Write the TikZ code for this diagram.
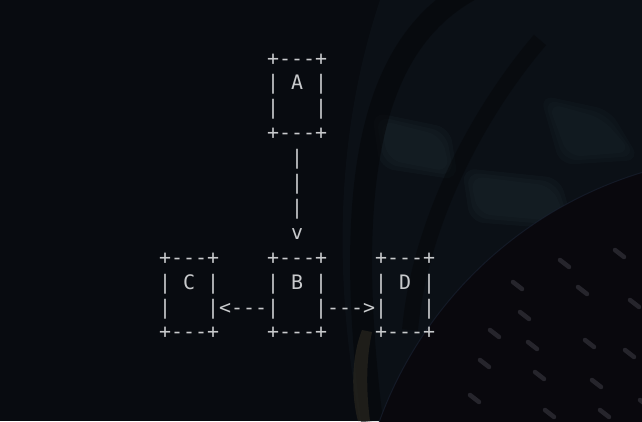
\documentclass[tikz,border=0pt]{standalone}
\usepackage{fontspec}
\setmonofont{DejaVu Sans Mono}
\definecolor{bg}{RGB}{8,11,16}
\definecolor{bgright}{RGB}{13,19,25}
\definecolor{blob}{RGB}{30,44,50}
\definecolor{ring}{RGB}{5,6,8}
\definecolor{disk}{RGB}{9,8,13}
\definecolor{diskedge}{RGB}{30,40,60}
\definecolor{bristle}{RGB}{62,62,70}
\definecolor{sliver}{RGB}{40,38,30}
\definecolor{txt}{RGB}{200,202,204}
\begin{document}
\begin{tikzpicture}[x=1pt,y=-1pt,
  ascii/.style={inner sep=0pt, anchor=base west, text=txt,
    font=\ttfamily\fontsize{19.93}{24.9}\selectfont},
  softblob/.style={fill=blob, opacity=0.2, rounded corners=14pt},
  bristlestroke/.style={draw=bristle, line width=4.5pt, line cap=round, opacity=0.55}]
\useasboundingbox (0,0) rectangle (642,421);
% background photo (blurred)
\fill[bg] (0,0) rectangle (642,421);
\fill[bgright, opacity=0.7] (380,0) .. controls (340,120) and (330,260) .. (360,421) -- (642,421) -- (642,0) -- cycle;
\foreach \i in {0,4,8} {
  \fill[softblob] (372+\i,112+\i) -- (450-\i,128+\i) -- (458-\i,180-\i) -- (380+\i,168-\i) -- cycle;
  \fill[softblob] (462+\i,168+\i) -- (560-\i,178+\i) -- (575-\i,230-\i) -- (470+\i,222-\i) -- cycle;
  \fill[softblob, opacity=0.15] (540+\i,95+\i) -- (610-\i,110+\i) -- (640-\i,160-\i) -- (560+\i,165-\i) -- cycle;
}
\draw[ring, line width=22pt, opacity=0.55] (470,-10) .. controls (380,40) and (340,160) .. (372,421);
\draw[ring, line width=16pt, opacity=0.45] (540,40) .. controls (480,110) and (420,220) .. (410,330);
\fill[sliver, opacity=0.7] (362,330) .. controls (350,360) and (352,400) .. (358,421) -- (370,421) .. controls (366,390) and (366,360) .. (372,332) -- cycle;
\fill[disk] (760,560) circle (405);
\draw[diskedge, opacity=0.5, line width=1pt] (760,560) circle (405);
\foreach \x/\y in {513/282,578/287,520/312,585/340,528/342,592/380,535/372,600/410,470/395,480/360,545/410,630/300,625/350,490/330,615/250,560/260,640/400}
  \draw[bristlestroke] (\x,\y) -- ++(9,7);
% ASCII diagram
\node[ascii] (Atop) at (267,65) {+---+};
\node[ascii] (Alabel) at (267,89.9) {|\ A\ |};
\node[ascii] (Amid) at (267,114.8) {|\ \ \ |};
\node[ascii] (Abot) at (267,139.7) {+---+};
\node[ascii] (V1) at (291,164.6) {|};
\node[ascii] (V2) at (291,189.5) {|};
\node[ascii] (V3) at (291,214.4) {|};
\node[ascii] (Vhead) at (291,239.3) {v};
\node[ascii] (Ctop) at (159,264.2) {+---+};
\node[ascii] (Clabel) at (159,289.1) {|\ C\ |};
\node[ascii] (Cmid) at (159,314) {|\ \ \ |};
\node[ascii] (Cbot) at (159,338.9) {+---+};
\node[ascii] (Btop) at (267,264.2) {+---+};
\node[ascii] (Blabel) at (267,289.1) {|\ B\ |};
\node[ascii] (Bmid) at (267,314) {|\ \ \ |};
\node[ascii] (Bbot) at (267,338.9) {+---+};
\node[ascii] (Dtop) at (375,264.2) {+---+};
\node[ascii] (Dlabel) at (375,289.1) {|\ D\ |};
\node[ascii] (Dmid) at (375,314) {|\ \ \ |};
\node[ascii] (Dbot) at (375,338.9) {+---+};
\node[ascii] (BtoC) at (219,314) {<---};
\node[ascii] (BtoD) at (327,314) {--->};
\end{tikzpicture}
\end{document}
